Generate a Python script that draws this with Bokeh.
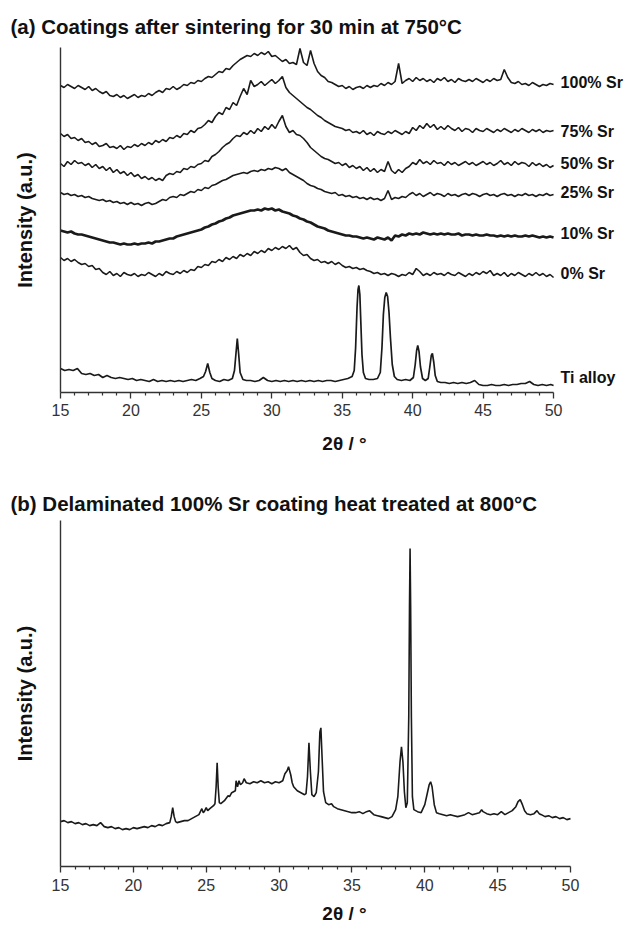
from bokeh.plotting import figure
from bokeh.layouts import column
from bokeh.models import Range1d, FixedTicker
from bokeh.core.properties import value
from bokeh.embed import file_html
from bokeh.resources import INLINE

FONT = "Liberation Sans"
INK = "#1a1a1a"

# ---------------- panel (a) data (values as plotted, stacked offsets included) -------------
two_theta_grid = [15 + 0.25 * i for i in range(141)]

sr100 = [307, 305, 308, 306, 304, 307, 305, 303, 306, 302, 304, 301, 299, 301, 297, 296,
         298, 295, 297, 294, 296, 298, 295, 297, 296, 299, 297, 300, 302, 300, 304, 303,
         306, 303, 305, 308, 307, 310, 309, 312, 311, 314, 316, 315, 318, 321, 320, 324,
         323, 327, 330, 333, 335, 337, 336, 339, 337, 340, 338, 341, 336, 337, 334, 331,
         333, 329, 330, 328, 344, 330, 327, 342, 329, 321, 317, 315, 311, 310, 308, 306,
         307, 304, 306, 303, 305, 306, 304, 307, 305, 307, 306, 309, 307, 310, 308, 311,
         329, 309, 312, 314, 311, 315, 312, 314, 311, 313, 310, 314, 312, 315, 311, 313,
         310, 314, 312, 311, 313, 311, 314, 312, 310, 313, 311, 314, 312, 313, 323, 315,
         310, 309, 311, 308, 309, 307, 310, 308, 306, 308, 307, 309, 308]

sr75 = [259, 256, 258, 254, 255, 252, 254, 250, 251, 248, 250, 246, 247, 249, 245, 246,
        244, 247, 243, 246, 245, 248, 246, 249, 247, 250, 248, 252, 250, 253, 251, 255,
        254, 257, 255, 259, 258, 262, 260, 264, 265, 268, 272, 270, 276, 280, 278, 285,
        283, 290, 287, 296, 304, 298, 312, 306, 308, 311, 307, 310, 313, 309, 312, 316,
        305, 300, 297, 294, 291, 288, 285, 283, 280, 277, 275, 272, 270, 268, 266, 265,
        264, 262, 263, 260, 261, 259, 262, 258, 260, 257, 261, 259, 258, 261, 259, 262,
        260, 258, 261, 259, 265, 262, 267, 264, 269, 265, 268, 263, 266, 263, 267, 264,
        262, 265, 261, 264, 263, 260, 264, 262, 261, 264, 262, 260, 263, 261, 264, 262,
        260, 263, 261, 264, 262, 260, 263, 261, 263, 260, 262, 261, 262]

sr50 = [229, 226, 231, 228, 232, 229, 230, 227, 229, 225, 228, 224, 226, 222, 225, 220,
        223, 219, 221, 217, 220, 216, 218, 214, 216, 213, 215, 212, 214, 212, 217, 219,
        218, 221, 220, 224, 223, 226, 225, 228, 229, 232, 231, 236, 238, 241, 245, 248,
        250, 254, 257, 256, 260, 258, 262, 259, 264, 261, 266, 263, 268, 264, 271, 277,
        266, 260, 262, 258, 257, 254, 250, 245, 242, 239, 236, 234, 233, 231, 229, 230,
        227, 229, 225, 227, 224, 226, 222, 225, 221, 224, 220, 223, 221, 231, 222, 219,
        223, 220, 224, 226, 230, 228, 233, 229, 231, 228, 232, 229, 230, 227, 231, 228,
        230, 227, 229, 231, 228, 230, 227, 229, 231, 228, 230, 227, 229, 232, 228, 230,
        227, 231, 228, 230, 229, 226, 230, 227, 229, 226, 228, 225, 227]

sr25 = [200, 198, 199, 197, 198, 196, 197, 195, 196, 194, 193, 192, 193, 191, 192, 190,
        191, 189, 190, 188, 190, 188, 189, 187, 189, 190, 188, 189, 191, 193, 192, 195,
        196, 195, 198, 197, 199, 201, 200, 203, 202, 205, 204, 207, 208, 210, 212, 213,
        215, 217, 218, 219, 220, 219, 221, 222, 221, 223, 222, 224, 223, 225, 224, 222,
        224, 220, 218, 216, 214, 212, 209, 207, 206, 204, 203, 201, 200, 199, 200, 197,
        198, 196, 197, 195, 196, 194, 195, 193, 195, 193, 194, 192, 194, 202, 193, 195,
        194, 196, 195, 198, 200, 197, 199, 196, 198, 200, 197, 199, 198, 196, 199, 197,
        198, 196, 198, 199, 197, 199, 198, 196, 198, 199, 197, 198, 196, 198, 199, 197,
        198, 196, 198, 197, 199, 197, 198, 196, 198, 197, 199, 197, 198]

sr10 = [162, 161, 160, 161, 159, 158, 158, 157, 156, 155, 154, 153, 152, 151, 150, 150,
        149, 148, 149, 148, 148, 149, 148, 149, 149, 150, 149, 151, 151, 152, 153, 154,
        154, 156, 157, 158, 159, 160, 161, 162, 163, 165, 166, 168, 169, 171, 172, 174,
        175, 177, 178, 179, 180, 181, 182, 182, 183, 182, 184, 183, 184, 182, 183, 181,
        180, 179, 177, 176, 174, 173, 171, 170, 168, 166, 165, 164, 162, 161, 160, 159,
        158, 157, 157, 156, 156, 155, 154, 155, 154, 153, 155, 154, 153, 155, 152, 157,
        156, 158, 157, 159, 158, 159, 158, 160, 159, 158, 159, 158, 159, 158, 159, 158,
        158, 159, 157, 158, 158, 157, 158, 157, 157, 158, 157, 157, 156, 157, 156, 157,
        156, 157, 156, 156, 157, 156, 157, 156, 155, 156, 155, 156, 155]

sr0 = [135, 132, 134, 131, 133, 130, 128, 129, 126, 127, 123, 124, 120, 118, 121, 117,
       119, 116, 120, 118, 117, 119, 116, 118, 117, 120, 118, 116, 119, 117, 121, 119,
       118, 121, 119, 122, 120, 123, 122, 126, 125, 128, 127, 131, 130, 133, 131, 135,
       133, 136, 134, 138, 136, 139, 137, 141, 139, 142, 140, 144, 142, 145, 143, 146,
       144, 147, 143, 145, 140, 137, 138, 134, 132, 133, 130, 131, 129, 131, 128, 130,
       127, 125, 126, 124, 125, 123, 124, 122, 121, 119, 120, 118, 119, 117, 119, 118,
       116, 118, 117, 120, 118, 124, 121, 117, 119, 117, 120, 118, 119, 117, 120, 118,
       117, 120, 118, 116, 119, 117, 120, 118, 121, 119, 122, 117, 119, 117, 120, 116,
       119, 117, 120, 118, 116, 119, 117, 120, 117, 119, 116, 118, 115]

ti_alloy_points = [
    (15.0, 24), (15.3, 22), (15.6, 23), (15.9, 22), (16.2, 24), (16.5, 19), (16.8, 18),
    (17.1, 19), (17.4, 17), (17.7, 18), (18.0, 15), (18.3, 17), (18.6, 15), (18.9, 14),
    (19.2, 15), (19.5, 14), (19.8, 13), (20.1, 14), (20.4, 12), (20.7, 13), (21.0, 12),
    (21.3, 11), (21.6, 13), (21.9, 11), (22.2, 12), (22.5, 11), (22.8, 12), (23.1, 11),
    (23.4, 12), (23.7, 11), (24.0, 12), (24.3, 13), (24.6, 12), (24.9, 14), (25.15, 16),
    (25.3, 21), (25.45, 29), (25.6, 20), (25.75, 14), (26.0, 12), (26.3, 11), (26.6, 13),
    (26.9, 12), (27.2, 14), (27.35, 22), (27.45, 38), (27.55, 54), (27.65, 38), (27.75, 20),
    (27.95, 13), (28.2, 12), (28.5, 12), (28.8, 11), (29.1, 12), (29.4, 15), (29.7, 12),
    (30.0, 11), (30.3, 12), (30.6, 11), (30.9, 12), (31.2, 11), (31.5, 12), (31.8, 11),
    (32.1, 12), (32.4, 11), (32.7, 12), (33.0, 11), (33.3, 12), (33.6, 11), (33.9, 12),
    (34.2, 12), (34.5, 11), (34.8, 12), (35.1, 13), (35.4, 14), (35.7, 16), (35.85, 22),
    (35.95, 45), (36.05, 85), (36.12, 103), (36.18, 107), (36.25, 98), (36.32, 70),
    (36.4, 38), (36.5, 20), (36.65, 14), (36.9, 13), (37.2, 13), (37.5, 14), (37.7, 20),
    (37.82, 45), (37.92, 78), (38.02, 95), (38.12, 100), (38.22, 96), (38.32, 80),
    (38.42, 55), (38.55, 28), (38.7, 16), (38.9, 13), (39.2, 12), (39.5, 13), (39.8, 12),
    (40.05, 15), (40.18, 28), (40.28, 42), (40.36, 47), (40.45, 41), (40.55, 26), (40.7, 14),
    (40.9, 12), (41.1, 14), (41.22, 26), (41.32, 37), (41.4, 39), (41.5, 30), (41.6, 17),
    (41.75, 11), (42.0, 10), (42.3, 10), (42.6, 9), (42.9, 10), (43.2, 9), (43.5, 10),
    (43.8, 9), (44.1, 10), (44.4, 12), (44.7, 8), (45.0, 7), (45.3, 7), (45.6, 8), (45.9, 7),
    (46.2, 7), (46.5, 8), (46.8, 7), (47.1, 8), (47.4, 8), (47.7, 9), (48.0, 9), (48.3, 11),
    (48.6, 8), (48.9, 7), (49.2, 8), (49.5, 7), (49.8, 8), (50.0, 7)]

labels_a = ["100% Sr", "75% Sr", "50% Sr", "25% Sr", "10% Sr", "0% Sr", "Ti alloy"]
label_y_a = [310, 261, 229, 200, 159, 119, 15]
label_x_a = 50.5

# ---------------- panel (b) data ----------------
delaminated_points = [
    (15.0, 45), (15.25, 46), (15.5, 44), (15.75, 45), (16.0, 43), (16.25, 44), (16.5, 42),
    (16.75, 43), (17.0, 41), (17.25, 42), (17.5, 41), (17.75, 44), (18.0, 40), (18.25, 39),
    (18.5, 40), (18.75, 38), (19.0, 39), (19.25, 37), (19.5, 38), (19.75, 37), (20.0, 39),
    (20.25, 38), (20.5, 39), (20.75, 40), (21.0, 39), (21.25, 41), (21.5, 40), (21.75, 42),
    (22.0, 41), (22.25, 43), (22.5, 44), (22.6, 50), (22.7, 59), (22.8, 50), (22.9, 45),
    (23.0, 44), (23.25, 45), (23.5, 46), (23.75, 46), (24.0, 48), (24.25, 50), (24.5, 52),
    (24.6, 55), (24.7, 58), (24.8, 54), (24.9, 56), (25.0, 59), (25.1, 56), (25.25, 58),
    (25.5, 61), (25.6, 63), (25.68, 80), (25.75, 104), (25.82, 80), (25.9, 64), (26.0, 63),
    (26.25, 66), (26.5, 71), (26.6, 70), (26.75, 74), (27.0, 76), (27.05, 86), (27.15, 80),
    (27.25, 86), (27.35, 82), (27.5, 84), (27.6, 88), (27.75, 84), (28.0, 83), (28.25, 85),
    (28.5, 84), (28.75, 86), (29.0, 84), (29.25, 85), (29.5, 83), (29.75, 85), (30.0, 84),
    (30.25, 86), (30.4, 93), (30.55, 96), (30.65, 100), (30.8, 92), (30.9, 84), (31.0, 80),
    (31.25, 76), (31.5, 74), (31.75, 72), (31.85, 73), (31.95, 90), (32.05, 124), (32.15, 95),
    (32.25, 72), (32.4, 70), (32.55, 74), (32.7, 95), (32.8, 135), (32.87, 139), (32.95, 110),
    (33.05, 75), (33.2, 64), (33.4, 62), (33.6, 63), (33.75, 60), (34.0, 58), (34.25, 57),
    (34.5, 56), (34.75, 55), (35.0, 54), (35.25, 54), (35.5, 55), (35.75, 53), (36.0, 55),
    (36.2, 56), (36.5, 52), (36.75, 51), (37.0, 50), (37.25, 49), (37.5, 48), (37.75, 50),
    (38.0, 57), (38.15, 70), (38.3, 105), (38.4, 120), (38.5, 105), (38.6, 75), (38.7, 59),
    (38.8, 64), (38.9, 150), (38.95, 260), (38.99, 319), (39.03, 260), (39.08, 150),
    (39.15, 70), (39.25, 57), (39.5, 55), (39.75, 54), (40.0, 62), (40.15, 72), (40.3, 82),
    (40.4, 85), (40.5, 80), (40.65, 62), (40.8, 54), (41.0, 53), (41.25, 52), (41.5, 51),
    (41.75, 52), (42.0, 51), (42.25, 50), (42.5, 51), (42.75, 52), (43.0, 54), (43.25, 52),
    (43.5, 53), (43.75, 54), (43.9, 57), (44.0, 55), (44.25, 53), (44.5, 52), (44.75, 53),
    (45.0, 52), (45.25, 55), (45.5, 52), (45.75, 54), (46.0, 56), (46.25, 60), (46.4, 65),
    (46.55, 67), (46.7, 62), (46.85, 56), (47.0, 53), (47.25, 52), (47.5, 53), (47.7, 56),
    (47.85, 53), (48.0, 52), (48.25, 50), (48.5, 51), (48.75, 49), (49.0, 50), (49.25, 48),
    (49.5, 49), (49.75, 47), (50.0, 48)]

major_ticks = [15, 20, 25, 30, 35, 40, 45, 50]
minor_ticks = [t for t in range(16, 50) if t % 5 != 0]


def style_axes(p, tick_label_standoff, axis_label_standoff, title_standoff):
    p.outline_line_color = None
    p.grid.visible = False
    p.background_fill_color = "white"
    p.border_fill_color = "white"
    xa = p.xaxis[0]
    xa.ticker = FixedTicker(ticks=major_ticks, minor_ticks=minor_ticks)
    xa.bounds = (15, 50)
    xa.axis_line_color = "#333333"
    xa.axis_line_width = 1.4
    xa.major_tick_line_color = "#333333"
    xa.minor_tick_line_color = "#333333"
    xa.major_tick_line_width = 1.3
    xa.minor_tick_line_width = 1.2
    xa.major_tick_in = 0
    xa.major_tick_out = 6
    xa.minor_tick_in = 0
    xa.minor_tick_out = 3
    xa.major_label_standoff = tick_label_standoff
    xa.major_label_text_font = FONT
    xa.major_label_text_font_size = "16px"
    xa.major_label_text_color = "#333333"
    xa.axis_label = "2θ / °"
    xa.axis_label_text_font = FONT
    xa.axis_label_text_font_style = "bold"
    xa.axis_label_text_font_size = "19px"
    xa.axis_label_text_color = "#111111"
    xa.axis_label_standoff = axis_label_standoff
    ya = p.yaxis[0]
    ya.ticker = FixedTicker(ticks=[])
    ya.axis_line_color = "#333333"
    ya.axis_line_width = 1.4
    ya.major_tick_line_color = None
    ya.minor_tick_line_color = None
    ya.axis_label = "Intensity (a.u.)"
    ya.axis_label_text_font = FONT
    ya.axis_label_text_font_style = "bold"
    ya.axis_label_text_font_size = "20px"
    ya.axis_label_text_color = "#111111"
    ya.axis_label_standoff = 25
    p.title.text_font = FONT
    p.title.text_font_style = "bold"
    p.title.text_font_size = "20.5px"
    p.title.text_color = "#111111"
    p.title.align = "left"
    p.title.offset = -50
    p.title.standoff = title_standoff


W = 628

# ---------------- figure (a) ----------------
pa = figure(width=W, height=463, output_backend="svg", toolbar_location=None,
            x_range=Range1d(15, 55.32), y_range=Range1d(0, 345),
            min_border_left=60, min_border_right=0, min_border_top=47, min_border_bottom=71,
            title="(a) Coatings after sintering for 30 min at 750°C")
style_axes(pa, 5, 14, 19)

for series, lw in [(sr100, 1.6), (sr75, 1.6), (sr50, 1.6), (sr25, 1.6), (sr10, 2.6), (sr0, 1.6)]:
    pa.line(two_theta_grid, series, line_color=INK, line_width=lw)
pa.line([p[0] for p in ti_alloy_points], [p[1] for p in ti_alloy_points],
        line_color=INK, line_width=1.7)
pa.text(x=[label_x_a] * len(labels_a), y=label_y_a, text=labels_a,
        text_font=value(FONT), text_font_style="bold", text_font_size="16px",
        text_color="#111111", text_baseline="middle", text_align="left")

# ---------------- figure (b) ----------------
pb = figure(width=W, height=466, output_backend="svg", toolbar_location=None,
            x_range=Range1d(15, 53.98), y_range=Range1d(0, 347),
            min_border_left=60, min_border_right=0, min_border_top=57, min_border_bottom=63,
            title="(b) Delaminated 100% Sr coating heat treated at 800°C")
style_axes(pb, 6, 9, 12)
pb.line([p[0] for p in delaminated_points], [p[1] for p in delaminated_points],
        line_color=INK, line_width=1.6)

layout = column(pa, pb, spacing=0)
open("out.html", "w").write(file_html(layout, INLINE))
